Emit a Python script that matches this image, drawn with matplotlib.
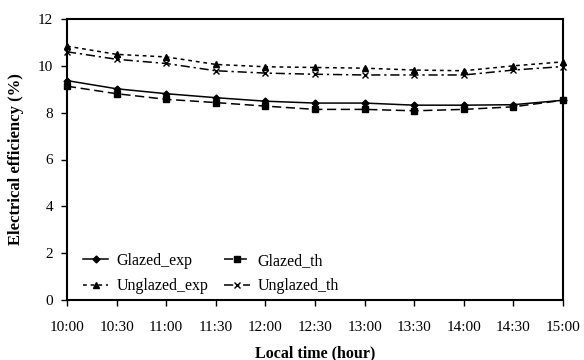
import matplotlib
matplotlib.use('Agg')
import matplotlib.pyplot as plt

plt.rcParams['font.family'] = ['Liberation Serif', 'DejaVu Serif']

# Time of day (hours) and tick labels
hours = [10.0, 10.5, 11.0, 11.5, 12.0, 12.5, 13.0, 13.5, 14.0, 14.5, 15.0]
time_labels = ['10:00', '10:30', '11:00', '11:30', '12:00', '12:30',
               '13:00', '13:30', '14:00', '14:30', '15:00']

# Electrical efficiency (%)
glazed_exp = [9.37, 9.02, 8.81, 8.64, 8.49, 8.41, 8.41, 8.32, 8.32, 8.34, 8.53]
glazed_th = [9.13, 8.81, 8.57, 8.43, 8.28, 8.14, 8.14, 8.08, 8.14, 8.25, 8.53]
unglazed_exp = [10.84, 10.49, 10.38, 10.06, 9.96, 9.93, 9.90, 9.82, 9.79, 10.00, 10.17]
unglazed_th = [10.60, 10.28, 10.10, 9.79, 9.69, 9.64, 9.61, 9.61, 9.61, 9.82, 9.97]

fig = plt.figure(figsize=(5.84, 3.6), dpi=100)
ax = fig.add_axes([67 / 584, 1 - 300 / 360, 496 / 584, 281 / 360])

lw = 1.1
l1, = ax.plot(hours, glazed_exp, color='black', lw=lw, ls='-', marker='D', ms=3.5,
              label='Glazed_exp', clip_on=False, zorder=3)
l2, = ax.plot(hours, glazed_th, color='black', lw=lw, ls=(0, (6, 3)), marker='s', ms=4.5,
              label='Glazed_th', clip_on=False, zorder=3)
l3, = ax.plot(hours, unglazed_exp, color='black', lw=lw, ls=(0, (2.5, 2.5)), marker='^', ms=4.5,
              label='Unglazed_exp', clip_on=False, zorder=3)
l4, = ax.plot(hours, unglazed_th, color='black', lw=lw, ls=(0, (6, 2.5, 1.5, 2.5)), marker='x',
              ms=4.5, mew=1.0, label='Unglazed_th', clip_on=False, zorder=3)

ax.set_xlim(10, 15)
ax.set_ylim(0, 12)
ax.set_xticks(hours)
ax.set_xticklabels(time_labels)
ax.set_yticks(range(0, 13, 2))

for s in ax.spines.values():
    s.set_linewidth(1.5)
ax.tick_params(direction='out', length=4, width=1.0, labelsize=11)
ax.tick_params(axis='x', pad=11)
ax.tick_params(axis='y', pad=6)

ax.set_xlabel('Local time (hour)', fontsize=11.5, fontweight='bold', labelpad=8)
ax.set_ylabel('Electrical efficiency (%)', fontsize=12, fontweight='bold', labelpad=10)

# row-wise order: Glazed_exp, Glazed_th / Unglazed_exp, Unglazed_th
ax.legend([l1, l3, l2, l4], ['Glazed_exp', 'Unglazed_exp', 'Glazed_th', 'Unglazed_th'],
          loc='lower left', bbox_to_anchor=(0.032, 0.02), ncol=2, frameon=False,
          fontsize=11.5, numpoints=1, handlelength=1.6, columnspacing=1.0,
          handletextpad=0.5, labelspacing=0.6, borderpad=0, borderaxespad=0)

fig.savefig('out.png', dpi=100)
